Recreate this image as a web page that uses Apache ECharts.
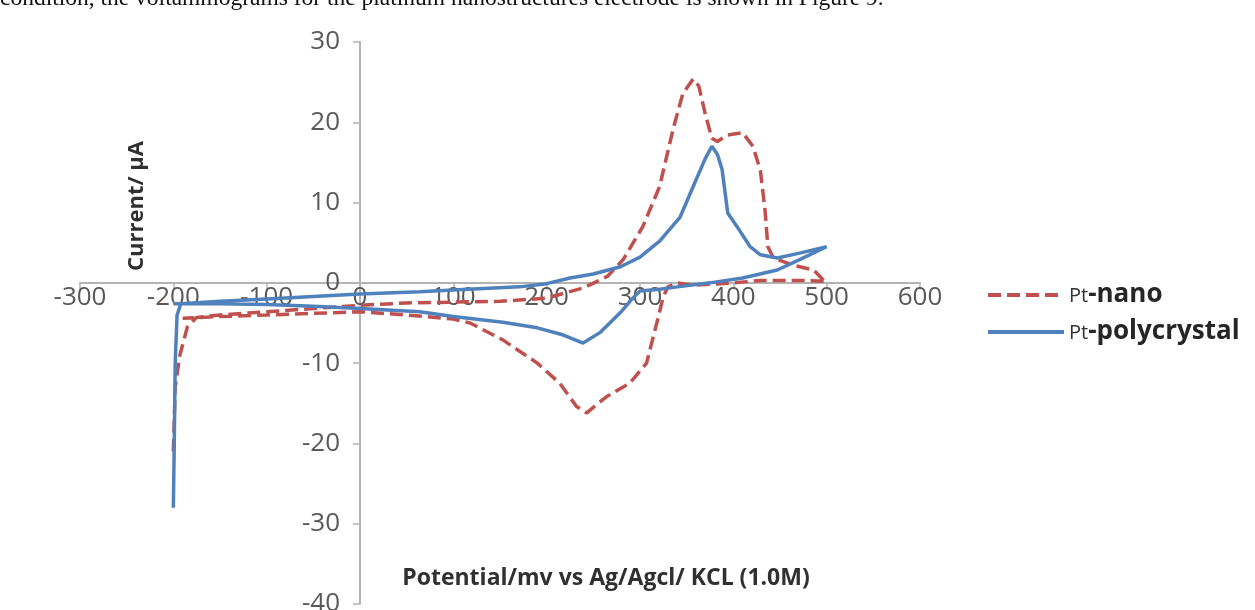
<!DOCTYPE html>
<html>
<head>
<meta charset="utf-8">
<script src="https://cdn.jsdelivr.net/npm/echarts@6/dist/echarts.min.js"></script>
<style>
    html, body { margin: 0; padding: 0; background: #fff; }
    #chart { width: 1255px; height: 610px; }
</style>
</head>
<body>
<div id="chart"></div>
<script>
// Pt-nano (dashed red) : anodic sweep then cathodic sweep back
var nanoPotential = [-200, -198, -193, -185, -175, -150, -100, -50, 0, 50, 100, 150, 200, 240, 265, 282, 303, 321, 336, 346, 357, 363, 370, 377, 383, 393, 410, 421, 429, 434, 437, 443, 464, 486, 496, 500,
    470, 430, 400, 357, 340, 330, 325, 318, 307, 289, 264, 250, 243, 232, 214, 190, 153, 118, 100, 50, 0, -50, -100, -150, -190];
var nanoCurrent = [-21, -13, -9, -5.5, -4.3, -4.0, -3.6, -3.2, -2.8, -2.5, -2.4, -2.3, -1.9, -0.6, 0.8, 2.9, 7.0, 12.0, 19.4, 23.6, 25.4, 24.5, 21.0, 18.0, 17.6, 18.4, 18.7, 17.0, 14.0, 9.0, 4.5, 3.1, 2.2, 1.6, 0.4, 0.2,
    0.3, 0.3, 0.0, -0.3, 0.0, -0.5, -1.7, -5.0, -10.0, -12.5, -14.2, -15.5, -16.2, -15.4, -12.5, -10.0, -7.1, -5.0, -4.5, -4.0, -3.6, -3.8, -4.0, -4.2, -4.4];

// Pt-polycrystal (solid blue)
var polyPotential = [-200, -199, -198, -196, -192, -150, -100, -50, 0, 64, 100, 171, 200, 225, 250, 279, 300, 321, 343, 357, 370, 377, 383, 388, 394, 404, 418, 429, 447, 471, 500,
    471, 447, 410, 375, 340, 321, 300, 290, 279, 257, 239, 218, 190, 153, 100, 64, 0, -50, -100, -150, -200];
var polyCurrent = [-28, -20, -10, -4, -2.6, -2.3, -2.0, -1.7, -1.4, -1.1, -0.9, -0.5, -0.1, 0.6, 1.1, 2.0, 3.2, 5.2, 8.2, 12.0, 15.5, 17.0, 16.0, 14.1, 8.7, 7.0, 4.5, 3.5, 3.1, 3.7, 4.5,
    2.9, 1.6, 0.6, 0.0, -0.5, -0.8, -1.0, -2.2, -3.7, -6.2, -7.5, -6.5, -5.6, -4.9, -4.2, -3.6, -3.2, -2.9, -2.7, -2.6, -2.6];

var seriesNames = ['Pt-nano', 'Pt-polycrystal'];
var xTicks = {min: -300, max: 600, step: 100};
var yTicks = {min: -40, max: 30, step: 10};

function zip(xs, ys) {
    return xs.map(function (x, i) { return [x, ys[i]]; });
}

var chart = echarts.init(document.getElementById('chart'), null, {renderer: 'canvas'});
var axisColor = '#b4b4b4';
var labelColor = '#595959';

// grid box, axes are pushed in to cross at (0, 0) like the Excel chart
var gridLeft = 80, gridRight = 920, gridTop = 42, gridBottom = 604;
var zeroX = gridLeft + (0 - xTicks.min) / (xTicks.max - xTicks.min) * (gridRight - gridLeft);
var zeroY = gridTop + (yTicks.max - 0) / (yTicks.max - yTicks.min) * (gridBottom - gridTop);

var option = {
    animation: false,
    backgroundColor: '#ffffff',
    grid: {
        left: gridLeft, right: 1255 - gridRight, top: gridTop, bottom: 610 - gridBottom,
        containLabel: false, outerBoundsMode: 'none'
    },
    xAxis: {
        type: 'value',
        min: xTicks.min, max: xTicks.max, interval: xTicks.step,
        offset: -(gridBottom - zeroY),
        splitLine: {show: false},
        axisLine: {onZero: false, lineStyle: {color: axisColor, width: 2}},
        axisTick: {show: true, length: 7, lineStyle: {color: axisColor, width: 1.5}},
        axisLabel: {margin: 2, color: labelColor, fontSize: 26, fontFamily: 'Open Sans'}
    },
    yAxis: {
        type: 'value',
        min: yTicks.min, max: yTicks.max, interval: yTicks.step,
        offset: -(zeroX - gridLeft),
        splitLine: {show: false},
        axisLine: {onZero: false, lineStyle: {color: axisColor, width: 2}},
        axisTick: {show: true, length: 7, lineStyle: {color: axisColor, width: 1.5}},
        axisLabel: {margin: 20, color: labelColor, fontSize: 26, fontFamily: 'Open Sans'}
    },
    legend: {
        orient: 'vertical',
        left: 986,
        top: 282,
        padding: 0,
        itemWidth: 76,
        itemHeight: 20,
        itemGap: 11,
        data: seriesNames,
        itemStyle: {opacity: 0},
        lineStyle: {width: 4},
        formatter: function (name) {
            return '{a|Pt}{b|' + name.slice(2) + '}';
        },
        textStyle: {
            rich: {
                a: {fontSize: 20, color: '#333', fontFamily: 'Open Sans', lineHeight: 26, padding: [3, 0, 0, 0]},
                b: {fontSize: 26, fontWeight: 'bold', color: '#262626', fontFamily: 'Open Sans', lineHeight: 26}
            }
        }
    },
    graphic: [
        {
            type: 'text', left: 0, top: -13,
            style: {
                text: 'condition, the voltammograms for the platinum nanostructures electrode is shown in Figure 9.',
                font: '23.5px "Liberation Serif"', fill: '#111'
            }
        },
        {
            type: 'text', x: 137, y: 206, rotation: Math.PI / 2,
            style: {
                text: 'Current/ µA', font: 'bold 22px "Open Sans"', fill: '#303030',
                align: 'center', verticalAlign: 'middle'
            }
        },
        {
            type: 'text', x: 606, y: 578,
            style: {
                text: 'Potential/mv vs Ag/Agcl/ KCL (1.0M)', font: 'bold 23px "Open Sans"', fill: '#303030',
                align: 'center', verticalAlign: 'middle'
            }
        }
    ],
    series: [
        {
            name: seriesNames[0],
            type: 'line',
            symbol: 'none',
            data: zip(nanoPotential, nanoCurrent),
            itemStyle: {color: '#c0504d'},
            lineStyle: {color: '#c0504d', width: 3.5, type: [13, 6]}
        },
        {
            name: seriesNames[1],
            type: 'line',
            symbol: 'none',
            data: zip(polyPotential, polyCurrent),
            itemStyle: {color: '#4f81bd'},
            lineStyle: {color: '#4f81bd', width: 3.5}
        }
    ]
};
chart.setOption(option);
</script>
</body>
</html>
